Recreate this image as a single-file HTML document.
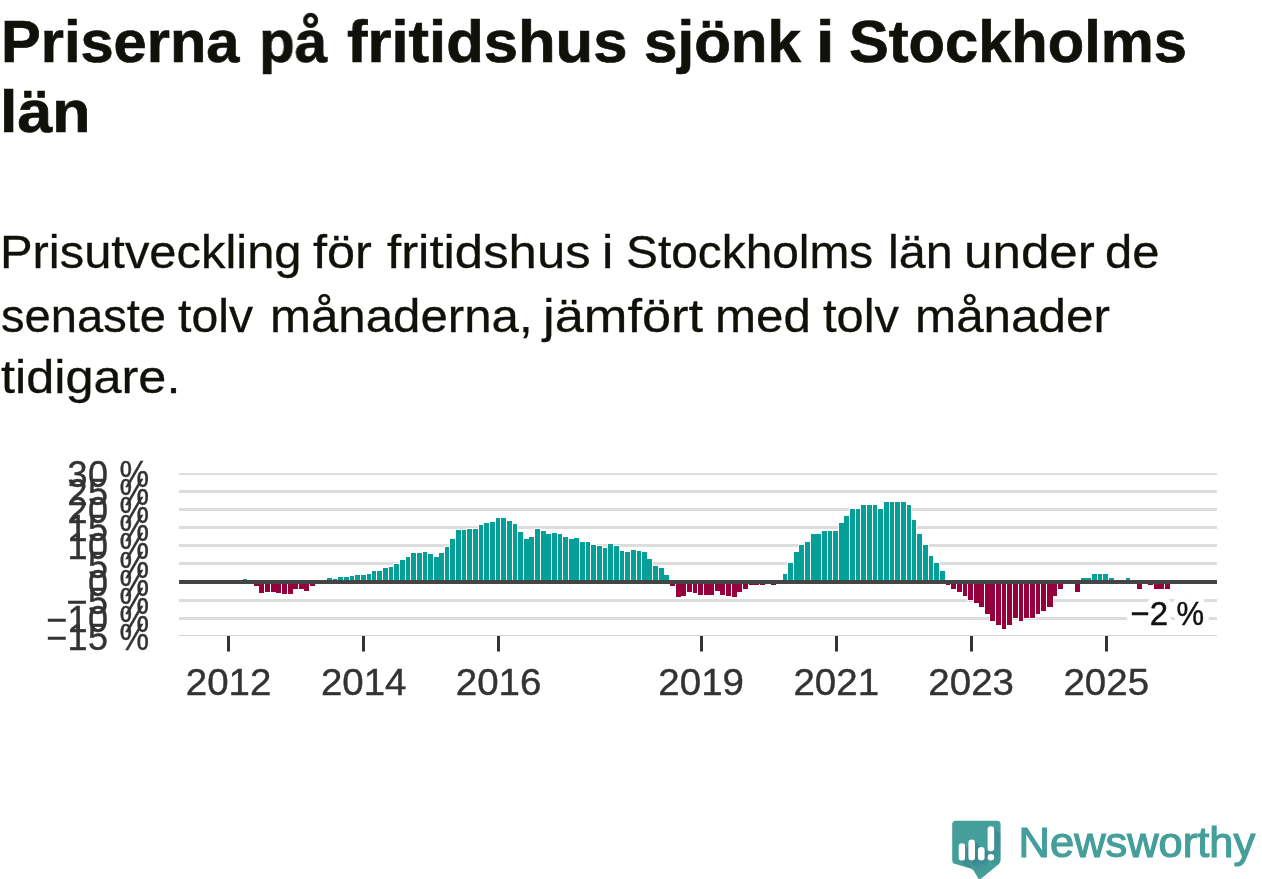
<!DOCTYPE html>
<html lang="sv"><head><meta charset="utf-8"><title>Priserna på fritidshus sjönk i Stockholms län</title>
<style>
html,body{margin:0;padding:0;background:#ffffff;}
body{width:1262px;height:879px;position:relative;overflow:hidden;font-family:"Liberation Sans", sans-serif;}
.w{position:absolute;white-space:nowrap;line-height:1;transform-origin:0 0;display:block;will-change:transform;}
.b{-webkit-text-stroke:0.7px #11110c;}
.r{-webkit-text-stroke:0.3px #11110c;}
svg{position:absolute;left:0;top:0;overflow:hidden;will-change:transform;}
</style></head><body>
<div class="head">
<span class="w b" style="left:0.99px;top:12.03px;font-size:59.5px;font-weight:700;color:#11110c;transform:scaleX(1.0013)">Priserna</span>
<span class="w b" style="left:258.97px;top:12.03px;font-size:59.5px;font-weight:700;color:#11110c;transform:scaleX(0.9833)">på</span>
<span class="w b" style="left:347.47px;top:12.03px;font-size:59.5px;font-weight:700;color:#11110c;transform:scaleX(1.0347)">fritidshus</span>
<span class="w b" style="left:643.58px;top:12.03px;font-size:59.5px;font-weight:700;color:#11110c;transform:scaleX(1.0105)">sjönk</span>
<span class="w b" style="left:815.69px;top:12.03px;font-size:59.5px;font-weight:700;color:#11110c;transform:scaleX(1.1200)">i</span>
<span class="w b" style="left:849.40px;top:12.03px;font-size:59.5px;font-weight:700;color:#11110c;transform:scaleX(1.0021)">Stockholms</span>
<span class="w b" style="left:-0.11px;top:81.63px;font-size:59.5px;font-weight:700;color:#11110c;transform:scaleX(1.0526)">län</span>
<span class="w r" style="left:-0.30px;top:230.28px;font-size:45.5px;font-weight:400;color:#11110c;transform:scaleX(1.0741)">Prisutveckling</span>
<span class="w r" style="left:313.19px;top:230.28px;font-size:45.5px;font-weight:400;color:#11110c;transform:scaleX(1.1096)">för</span>
<span class="w r" style="left:387.28px;top:230.28px;font-size:45.5px;font-weight:400;color:#11110c;transform:scaleX(1.1184)">fritidshus</span>
<span class="w r" style="left:602.40px;top:230.28px;font-size:45.5px;font-weight:400;color:#11110c;transform:scaleX(1.1200)">i</span>
<span class="w r" style="left:626.40px;top:230.28px;font-size:45.5px;font-weight:400;color:#11110c;transform:scaleX(1.0513)">Stockholms</span>
<span class="w r" style="left:887.70px;top:230.28px;font-size:45.5px;font-weight:400;color:#11110c;transform:scaleX(1.0673)">län</span>
<span class="w r" style="left:963.63px;top:230.28px;font-size:45.5px;font-weight:400;color:#11110c;transform:scaleX(1.1239)">under</span>
<span class="w r" style="left:1105.45px;top:230.28px;font-size:45.5px;font-weight:400;color:#11110c;transform:scaleX(1.0766)">de</span>
<span class="w r" style="left:1.36px;top:293.58px;font-size:45.5px;font-weight:400;color:#11110c;transform:scaleX(1.0359)">senaste</span>
<span class="w r" style="left:178.04px;top:293.58px;font-size:45.5px;font-weight:400;color:#11110c;transform:scaleX(1.0600)">tolv</span>
<span class="w r" style="left:269.66px;top:293.58px;font-size:45.5px;font-weight:400;color:#11110c;transform:scaleX(1.0814)">månaderna,</span>
<span class="w r" style="left:542.55px;top:293.58px;font-size:45.5px;font-weight:400;color:#11110c;transform:scaleX(1.1514)">jämfört</span>
<span class="w r" style="left:714.95px;top:293.58px;font-size:45.5px;font-weight:400;color:#11110c;transform:scaleX(1.0831)">med</span>
<span class="w r" style="left:823.13px;top:293.58px;font-size:45.5px;font-weight:400;color:#11110c;transform:scaleX(1.0729)">tolv</span>
<span class="w r" style="left:915.14px;top:293.58px;font-size:45.5px;font-weight:400;color:#11110c;transform:scaleX(1.0852)">månader</span>
<span class="w r" style="left:1.39px;top:355.28px;font-size:45.5px;font-weight:400;color:#11110c;transform:scaleX(1.1083)">tidigare.</span>
</div>
<svg class="chart" width="1262" height="879" viewBox="0 0 1262 879" font-family='"Liberation Sans", sans-serif'>
<g fill="#dddddd" shape-rendering="crispEdges">
<rect x="179" y="473" width="1038" height="2"/>
<rect x="179" y="490" width="1038" height="3"/>
<rect x="179" y="508" width="1038" height="3"/>
<rect x="179" y="526" width="1038" height="3"/>
<rect x="179" y="544" width="1038" height="3"/>
<rect x="179" y="562" width="1038" height="3"/>
<rect x="179" y="599" width="1038" height="3"/>
<rect x="179" y="617" width="1038" height="3"/>
<rect x="179" y="635" width="1038" height="1" fill="#d4d4d4"/>
</g>
<g shape-rendering="crispEdges">
<rect x="242" y="578" width="6" height="4" fill="#ffffff"/>
<rect x="253" y="582" width="7" height="5" fill="#ffffff"/>
<rect x="258" y="582" width="7" height="12" fill="#ffffff"/>
<rect x="264" y="582" width="7" height="11" fill="#ffffff"/>
<rect x="270" y="582" width="7" height="11" fill="#ffffff"/>
<rect x="275" y="582" width="7" height="12" fill="#ffffff"/>
<rect x="281" y="582" width="7" height="13" fill="#ffffff"/>
<rect x="287" y="582" width="7" height="13" fill="#ffffff"/>
<rect x="292" y="582" width="7" height="8" fill="#ffffff"/>
<rect x="298" y="582" width="7" height="8" fill="#ffffff"/>
<rect x="303" y="582" width="7" height="10" fill="#ffffff"/>
<rect x="309" y="582" width="7" height="5" fill="#ffffff"/>
<rect x="326" y="577" width="7" height="5" fill="#ffffff"/>
<rect x="332" y="578" width="6" height="4" fill="#ffffff"/>
<rect x="337" y="576" width="7" height="6" fill="#ffffff"/>
<rect x="343" y="576" width="7" height="6" fill="#ffffff"/>
<rect x="349" y="575" width="6" height="7" fill="#ffffff"/>
<rect x="354" y="574" width="7" height="8" fill="#ffffff"/>
<rect x="360" y="574" width="7" height="8" fill="#ffffff"/>
<rect x="366" y="573" width="6" height="9" fill="#ffffff"/>
<rect x="371" y="570" width="6" height="12" fill="#ffffff"/>
<rect x="376" y="570" width="7" height="12" fill="#ffffff"/>
<rect x="382" y="567" width="7" height="15" fill="#ffffff"/>
<rect x="388" y="566" width="6" height="16" fill="#ffffff"/>
<rect x="393" y="563" width="7" height="19" fill="#ffffff"/>
<rect x="399" y="559" width="7" height="23" fill="#ffffff"/>
<rect x="405" y="556" width="6" height="26" fill="#ffffff"/>
<rect x="410" y="552" width="7" height="30" fill="#ffffff"/>
<rect x="416" y="552" width="7" height="30" fill="#ffffff"/>
<rect x="422" y="551" width="6" height="31" fill="#ffffff"/>
<rect x="427" y="553" width="7" height="29" fill="#ffffff"/>
<rect x="433" y="556" width="7" height="26" fill="#ffffff"/>
<rect x="438" y="552" width="7" height="30" fill="#ffffff"/>
<rect x="444" y="546" width="6" height="36" fill="#ffffff"/>
<rect x="449" y="538" width="7" height="44" fill="#ffffff"/>
<rect x="455" y="529" width="7" height="53" fill="#ffffff"/>
<rect x="461" y="529" width="6" height="53" fill="#ffffff"/>
<rect x="466" y="528" width="7" height="54" fill="#ffffff"/>
<rect x="472" y="528" width="7" height="54" fill="#ffffff"/>
<rect x="478" y="524" width="6" height="58" fill="#ffffff"/>
<rect x="483" y="522" width="7" height="60" fill="#ffffff"/>
<rect x="489" y="521" width="7" height="61" fill="#ffffff"/>
<rect x="495" y="517" width="6" height="65" fill="#ffffff"/>
<rect x="500" y="517" width="7" height="65" fill="#ffffff"/>
<rect x="506" y="520" width="7" height="62" fill="#ffffff"/>
<rect x="512" y="523" width="6" height="59" fill="#ffffff"/>
<rect x="517" y="531" width="7" height="51" fill="#ffffff"/>
<rect x="523" y="538" width="7" height="44" fill="#ffffff"/>
<rect x="528" y="536" width="7" height="46" fill="#ffffff"/>
<rect x="534" y="528" width="7" height="54" fill="#ffffff"/>
<rect x="540" y="530" width="7" height="52" fill="#ffffff"/>
<rect x="545" y="533" width="7" height="49" fill="#ffffff"/>
<rect x="551" y="532" width="7" height="50" fill="#ffffff"/>
<rect x="557" y="533" width="6" height="49" fill="#ffffff"/>
<rect x="562" y="536" width="7" height="46" fill="#ffffff"/>
<rect x="568" y="538" width="7" height="44" fill="#ffffff"/>
<rect x="573" y="537" width="7" height="45" fill="#ffffff"/>
<rect x="579" y="541" width="7" height="41" fill="#ffffff"/>
<rect x="585" y="541" width="6" height="41" fill="#ffffff"/>
<rect x="590" y="544" width="7" height="38" fill="#ffffff"/>
<rect x="596" y="545" width="7" height="37" fill="#ffffff"/>
<rect x="602" y="547" width="6" height="35" fill="#ffffff"/>
<rect x="607" y="543" width="7" height="39" fill="#ffffff"/>
<rect x="613" y="545" width="7" height="37" fill="#ffffff"/>
<rect x="619" y="550" width="6" height="32" fill="#ffffff"/>
<rect x="624" y="551" width="7" height="31" fill="#ffffff"/>
<rect x="630" y="549" width="7" height="33" fill="#ffffff"/>
<rect x="636" y="550" width="6" height="32" fill="#ffffff"/>
<rect x="641" y="551" width="7" height="31" fill="#ffffff"/>
<rect x="646" y="558" width="7" height="24" fill="#ffffff"/>
<rect x="652" y="565" width="7" height="17" fill="#ffffff"/>
<rect x="658" y="567" width="7" height="15" fill="#ffffff"/>
<rect x="663" y="574" width="7" height="8" fill="#ffffff"/>
<rect x="669" y="582" width="7" height="5" fill="#ffffff"/>
<rect x="675" y="582" width="7" height="16" fill="#ffffff"/>
<rect x="680" y="582" width="7" height="15" fill="#ffffff"/>
<rect x="686" y="582" width="7" height="11" fill="#ffffff"/>
<rect x="692" y="582" width="6" height="12" fill="#ffffff"/>
<rect x="697" y="582" width="7" height="14" fill="#ffffff"/>
<rect x="703" y="582" width="7" height="14" fill="#ffffff"/>
<rect x="708" y="582" width="7" height="14" fill="#ffffff"/>
<rect x="714" y="582" width="7" height="10" fill="#ffffff"/>
<rect x="719" y="582" width="7" height="14" fill="#ffffff"/>
<rect x="725" y="582" width="7" height="15" fill="#ffffff"/>
<rect x="731" y="582" width="7" height="16" fill="#ffffff"/>
<rect x="736" y="582" width="7" height="11" fill="#ffffff"/>
<rect x="742" y="582" width="7" height="8" fill="#ffffff"/>
<rect x="748" y="582" width="7" height="4" fill="#ffffff"/>
<rect x="753" y="582" width="7" height="4" fill="#ffffff"/>
<rect x="759" y="582" width="7" height="4" fill="#ffffff"/>
<rect x="770" y="582" width="7" height="4" fill="#ffffff"/>
<rect x="782" y="573" width="6" height="9" fill="#ffffff"/>
<rect x="787" y="562" width="7" height="20" fill="#ffffff"/>
<rect x="793" y="551" width="7" height="31" fill="#ffffff"/>
<rect x="798" y="544" width="7" height="38" fill="#ffffff"/>
<rect x="804" y="541" width="7" height="41" fill="#ffffff"/>
<rect x="810" y="533" width="7" height="49" fill="#ffffff"/>
<rect x="815" y="533" width="7" height="49" fill="#ffffff"/>
<rect x="821" y="530" width="7" height="52" fill="#ffffff"/>
<rect x="827" y="530" width="6" height="52" fill="#ffffff"/>
<rect x="832" y="530" width="7" height="52" fill="#ffffff"/>
<rect x="838" y="522" width="7" height="60" fill="#ffffff"/>
<rect x="843" y="515" width="7" height="67" fill="#ffffff"/>
<rect x="849" y="508" width="7" height="74" fill="#ffffff"/>
<rect x="855" y="508" width="6" height="74" fill="#ffffff"/>
<rect x="860" y="504" width="7" height="78" fill="#ffffff"/>
<rect x="866" y="504" width="7" height="78" fill="#ffffff"/>
<rect x="872" y="504" width="6" height="78" fill="#ffffff"/>
<rect x="877" y="508" width="7" height="74" fill="#ffffff"/>
<rect x="883" y="501" width="7" height="81" fill="#ffffff"/>
<rect x="889" y="501" width="6" height="81" fill="#ffffff"/>
<rect x="894" y="501" width="7" height="81" fill="#ffffff"/>
<rect x="900" y="501" width="7" height="81" fill="#ffffff"/>
<rect x="906" y="504" width="6" height="78" fill="#ffffff"/>
<rect x="911" y="519" width="6" height="63" fill="#ffffff"/>
<rect x="916" y="533" width="7" height="49" fill="#ffffff"/>
<rect x="922" y="544" width="7" height="38" fill="#ffffff"/>
<rect x="928" y="555" width="6" height="27" fill="#ffffff"/>
<rect x="933" y="562" width="7" height="20" fill="#ffffff"/>
<rect x="939" y="570" width="7" height="12" fill="#ffffff"/>
<rect x="945" y="582" width="6" height="4" fill="#ffffff"/>
<rect x="950" y="582" width="7" height="8" fill="#ffffff"/>
<rect x="956" y="582" width="7" height="11" fill="#ffffff"/>
<rect x="962" y="582" width="6" height="15" fill="#ffffff"/>
<rect x="967" y="582" width="7" height="19" fill="#ffffff"/>
<rect x="973" y="582" width="7" height="22" fill="#ffffff"/>
<rect x="978" y="582" width="7" height="26" fill="#ffffff"/>
<rect x="984" y="582" width="7" height="33" fill="#ffffff"/>
<rect x="989" y="582" width="7" height="40" fill="#ffffff"/>
<rect x="995" y="582" width="7" height="44" fill="#ffffff"/>
<rect x="1001" y="582" width="6" height="48" fill="#ffffff"/>
<rect x="1006" y="582" width="7" height="44" fill="#ffffff"/>
<rect x="1012" y="582" width="7" height="37" fill="#ffffff"/>
<rect x="1018" y="582" width="6" height="40" fill="#ffffff"/>
<rect x="1023" y="582" width="7" height="37" fill="#ffffff"/>
<rect x="1029" y="582" width="7" height="37" fill="#ffffff"/>
<rect x="1035" y="582" width="6" height="33" fill="#ffffff"/>
<rect x="1040" y="582" width="7" height="30" fill="#ffffff"/>
<rect x="1046" y="582" width="8" height="26" fill="#ffffff"/>
<rect x="1052" y="582" width="6" height="15" fill="#ffffff"/>
<rect x="1057" y="582" width="7" height="8" fill="#ffffff"/>
<rect x="1074" y="582" width="7" height="11" fill="#ffffff"/>
<rect x="1080" y="577" width="7" height="5" fill="#ffffff"/>
<rect x="1085" y="577" width="7" height="5" fill="#ffffff"/>
<rect x="1091" y="573" width="7" height="9" fill="#ffffff"/>
<rect x="1097" y="573" width="6" height="9" fill="#ffffff"/>
<rect x="1102" y="573" width="7" height="9" fill="#ffffff"/>
<rect x="1108" y="577" width="7" height="5" fill="#ffffff"/>
<rect x="1125" y="577" width="6" height="5" fill="#ffffff"/>
<rect x="1136" y="582" width="7" height="8" fill="#ffffff"/>
<rect x="1147" y="582" width="7" height="4" fill="#ffffff"/>
<rect x="1153" y="582" width="8" height="8" fill="#ffffff"/>
<rect x="1159" y="582" width="6" height="8" fill="#ffffff"/>
<rect x="1164" y="582" width="7" height="8" fill="#ffffff"/>
<rect x="243" y="579" width="4" height="3" fill="#04a097"/>
<rect x="254" y="582" width="5" height="4" fill="#96003c"/>
<rect x="259" y="582" width="5" height="11" fill="#96003c"/>
<rect x="265" y="582" width="5" height="10" fill="#96003c"/>
<rect x="271" y="582" width="5" height="10" fill="#96003c"/>
<rect x="276" y="582" width="5" height="11" fill="#96003c"/>
<rect x="282" y="582" width="5" height="12" fill="#96003c"/>
<rect x="288" y="582" width="5" height="12" fill="#96003c"/>
<rect x="293" y="582" width="5" height="7" fill="#96003c"/>
<rect x="299" y="582" width="5" height="7" fill="#96003c"/>
<rect x="304" y="582" width="5" height="9" fill="#96003c"/>
<rect x="310" y="582" width="5" height="4" fill="#96003c"/>
<rect x="327" y="578" width="5" height="4" fill="#04a097"/>
<rect x="333" y="579" width="4" height="3" fill="#04a097"/>
<rect x="338" y="577" width="5" height="5" fill="#04a097"/>
<rect x="344" y="577" width="5" height="5" fill="#04a097"/>
<rect x="350" y="576" width="4" height="6" fill="#04a097"/>
<rect x="355" y="575" width="5" height="7" fill="#04a097"/>
<rect x="361" y="575" width="5" height="7" fill="#04a097"/>
<rect x="367" y="574" width="4" height="8" fill="#04a097"/>
<rect x="372" y="571" width="4" height="11" fill="#04a097"/>
<rect x="377" y="571" width="5" height="11" fill="#04a097"/>
<rect x="383" y="568" width="5" height="14" fill="#04a097"/>
<rect x="389" y="567" width="4" height="15" fill="#04a097"/>
<rect x="394" y="564" width="5" height="18" fill="#04a097"/>
<rect x="400" y="560" width="5" height="22" fill="#04a097"/>
<rect x="406" y="557" width="4" height="25" fill="#04a097"/>
<rect x="411" y="553" width="5" height="29" fill="#04a097"/>
<rect x="417" y="553" width="5" height="29" fill="#04a097"/>
<rect x="423" y="552" width="4" height="30" fill="#04a097"/>
<rect x="428" y="554" width="5" height="28" fill="#04a097"/>
<rect x="434" y="557" width="5" height="25" fill="#04a097"/>
<rect x="439" y="553" width="5" height="29" fill="#04a097"/>
<rect x="445" y="547" width="4" height="35" fill="#04a097"/>
<rect x="450" y="539" width="5" height="43" fill="#04a097"/>
<rect x="456" y="530" width="5" height="52" fill="#04a097"/>
<rect x="462" y="530" width="4" height="52" fill="#04a097"/>
<rect x="467" y="529" width="5" height="53" fill="#04a097"/>
<rect x="473" y="529" width="5" height="53" fill="#04a097"/>
<rect x="479" y="525" width="4" height="57" fill="#04a097"/>
<rect x="484" y="523" width="5" height="59" fill="#04a097"/>
<rect x="490" y="522" width="5" height="60" fill="#04a097"/>
<rect x="496" y="518" width="4" height="64" fill="#04a097"/>
<rect x="501" y="518" width="5" height="64" fill="#04a097"/>
<rect x="507" y="521" width="5" height="61" fill="#04a097"/>
<rect x="513" y="524" width="4" height="58" fill="#04a097"/>
<rect x="518" y="532" width="5" height="50" fill="#04a097"/>
<rect x="524" y="539" width="5" height="43" fill="#04a097"/>
<rect x="529" y="537" width="5" height="45" fill="#04a097"/>
<rect x="535" y="529" width="5" height="53" fill="#04a097"/>
<rect x="541" y="531" width="5" height="51" fill="#04a097"/>
<rect x="546" y="534" width="5" height="48" fill="#04a097"/>
<rect x="552" y="533" width="5" height="49" fill="#04a097"/>
<rect x="558" y="534" width="4" height="48" fill="#04a097"/>
<rect x="563" y="537" width="5" height="45" fill="#04a097"/>
<rect x="569" y="539" width="5" height="43" fill="#04a097"/>
<rect x="574" y="538" width="5" height="44" fill="#04a097"/>
<rect x="580" y="542" width="5" height="40" fill="#04a097"/>
<rect x="586" y="542" width="4" height="40" fill="#04a097"/>
<rect x="591" y="545" width="5" height="37" fill="#04a097"/>
<rect x="597" y="546" width="5" height="36" fill="#04a097"/>
<rect x="603" y="548" width="4" height="34" fill="#04a097"/>
<rect x="608" y="544" width="5" height="38" fill="#04a097"/>
<rect x="614" y="546" width="5" height="36" fill="#04a097"/>
<rect x="620" y="551" width="4" height="31" fill="#04a097"/>
<rect x="625" y="552" width="5" height="30" fill="#04a097"/>
<rect x="631" y="550" width="5" height="32" fill="#04a097"/>
<rect x="637" y="551" width="4" height="31" fill="#04a097"/>
<rect x="642" y="552" width="5" height="30" fill="#04a097"/>
<rect x="647" y="559" width="5" height="23" fill="#04a097"/>
<rect x="653" y="566" width="5" height="16" fill="#04a097"/>
<rect x="659" y="568" width="5" height="14" fill="#04a097"/>
<rect x="664" y="575" width="5" height="7" fill="#04a097"/>
<rect x="670" y="582" width="5" height="4" fill="#96003c"/>
<rect x="676" y="582" width="5" height="15" fill="#96003c"/>
<rect x="681" y="582" width="5" height="14" fill="#96003c"/>
<rect x="687" y="582" width="5" height="10" fill="#96003c"/>
<rect x="693" y="582" width="4" height="11" fill="#96003c"/>
<rect x="698" y="582" width="5" height="13" fill="#96003c"/>
<rect x="704" y="582" width="5" height="13" fill="#96003c"/>
<rect x="709" y="582" width="5" height="13" fill="#96003c"/>
<rect x="715" y="582" width="5" height="9" fill="#96003c"/>
<rect x="720" y="582" width="5" height="13" fill="#96003c"/>
<rect x="726" y="582" width="5" height="14" fill="#96003c"/>
<rect x="732" y="582" width="5" height="15" fill="#96003c"/>
<rect x="737" y="582" width="5" height="10" fill="#96003c"/>
<rect x="743" y="582" width="5" height="7" fill="#96003c"/>
<rect x="749" y="582" width="5" height="3" fill="#96003c"/>
<rect x="754" y="582" width="5" height="3" fill="#96003c"/>
<rect x="760" y="582" width="5" height="3" fill="#96003c"/>
<rect x="771" y="582" width="5" height="3" fill="#96003c"/>
<rect x="783" y="574" width="4" height="8" fill="#04a097"/>
<rect x="788" y="563" width="5" height="19" fill="#04a097"/>
<rect x="794" y="552" width="5" height="30" fill="#04a097"/>
<rect x="799" y="545" width="5" height="37" fill="#04a097"/>
<rect x="805" y="542" width="5" height="40" fill="#04a097"/>
<rect x="811" y="534" width="5" height="48" fill="#04a097"/>
<rect x="816" y="534" width="5" height="48" fill="#04a097"/>
<rect x="822" y="531" width="5" height="51" fill="#04a097"/>
<rect x="828" y="531" width="4" height="51" fill="#04a097"/>
<rect x="833" y="531" width="5" height="51" fill="#04a097"/>
<rect x="839" y="523" width="5" height="59" fill="#04a097"/>
<rect x="844" y="516" width="5" height="66" fill="#04a097"/>
<rect x="850" y="509" width="5" height="73" fill="#04a097"/>
<rect x="856" y="509" width="4" height="73" fill="#04a097"/>
<rect x="861" y="505" width="5" height="77" fill="#04a097"/>
<rect x="867" y="505" width="5" height="77" fill="#04a097"/>
<rect x="873" y="505" width="4" height="77" fill="#04a097"/>
<rect x="878" y="509" width="5" height="73" fill="#04a097"/>
<rect x="884" y="502" width="5" height="80" fill="#04a097"/>
<rect x="890" y="502" width="4" height="80" fill="#04a097"/>
<rect x="895" y="502" width="5" height="80" fill="#04a097"/>
<rect x="901" y="502" width="5" height="80" fill="#04a097"/>
<rect x="907" y="505" width="4" height="77" fill="#04a097"/>
<rect x="912" y="520" width="4" height="62" fill="#04a097"/>
<rect x="917" y="534" width="5" height="48" fill="#04a097"/>
<rect x="923" y="545" width="5" height="37" fill="#04a097"/>
<rect x="929" y="556" width="4" height="26" fill="#04a097"/>
<rect x="934" y="563" width="5" height="19" fill="#04a097"/>
<rect x="940" y="571" width="5" height="11" fill="#04a097"/>
<rect x="946" y="582" width="4" height="3" fill="#96003c"/>
<rect x="951" y="582" width="5" height="7" fill="#96003c"/>
<rect x="957" y="582" width="5" height="10" fill="#96003c"/>
<rect x="963" y="582" width="4" height="14" fill="#96003c"/>
<rect x="968" y="582" width="5" height="18" fill="#96003c"/>
<rect x="974" y="582" width="5" height="21" fill="#96003c"/>
<rect x="979" y="582" width="5" height="25" fill="#96003c"/>
<rect x="985" y="582" width="5" height="32" fill="#96003c"/>
<rect x="990" y="582" width="5" height="39" fill="#96003c"/>
<rect x="996" y="582" width="5" height="43" fill="#96003c"/>
<rect x="1002" y="582" width="4" height="47" fill="#96003c"/>
<rect x="1007" y="582" width="5" height="43" fill="#96003c"/>
<rect x="1013" y="582" width="5" height="36" fill="#96003c"/>
<rect x="1019" y="582" width="4" height="39" fill="#96003c"/>
<rect x="1024" y="582" width="5" height="36" fill="#96003c"/>
<rect x="1030" y="582" width="5" height="36" fill="#96003c"/>
<rect x="1036" y="582" width="4" height="32" fill="#96003c"/>
<rect x="1041" y="582" width="5" height="29" fill="#96003c"/>
<rect x="1047" y="582" width="6" height="25" fill="#96003c"/>
<rect x="1053" y="582" width="4" height="14" fill="#96003c"/>
<rect x="1058" y="582" width="5" height="7" fill="#96003c"/>
<rect x="1075" y="582" width="5" height="10" fill="#96003c"/>
<rect x="1081" y="578" width="5" height="4" fill="#04a097"/>
<rect x="1086" y="578" width="5" height="4" fill="#04a097"/>
<rect x="1092" y="574" width="5" height="8" fill="#04a097"/>
<rect x="1098" y="574" width="4" height="8" fill="#04a097"/>
<rect x="1103" y="574" width="5" height="8" fill="#04a097"/>
<rect x="1109" y="578" width="5" height="4" fill="#04a097"/>
<rect x="1126" y="578" width="4" height="4" fill="#04a097"/>
<rect x="1137" y="582" width="5" height="7" fill="#96003c"/>
<rect x="1148" y="582" width="5" height="3" fill="#96003c"/>
<rect x="1154" y="582" width="6" height="7" fill="#96003c"/>
<rect x="1160" y="582" width="4" height="7" fill="#96003c"/>
<rect x="1165" y="582" width="5" height="7" fill="#96003c"/>
</g>
<rect x="179" y="580" width="1038" height="4" fill="#444444" shape-rendering="crispEdges"/>
<rect x="227" y="636" width="3" height="15.5" fill="#333333"/>
<text x="228.62" y="695" font-size="36" text-anchor="middle" fill="#333333" stroke="#333333" stroke-width="0.4" textLength="85.6" lengthAdjust="spacingAndGlyphs">2012</text>
<rect x="362" y="636" width="3" height="15.5" fill="#333333"/>
<text x="363.71" y="695" font-size="36" text-anchor="middle" fill="#333333" stroke="#333333" stroke-width="0.4" textLength="85.6" lengthAdjust="spacingAndGlyphs">2014</text>
<rect x="497" y="636" width="3" height="15.5" fill="#333333"/>
<text x="498.61" y="695" font-size="36" text-anchor="middle" fill="#333333" stroke="#333333" stroke-width="0.4" textLength="85.6" lengthAdjust="spacingAndGlyphs">2016</text>
<rect x="700" y="636" width="3" height="15.5" fill="#333333"/>
<text x="701.15" y="695" font-size="36" text-anchor="middle" fill="#333333" stroke="#333333" stroke-width="0.4" textLength="85.6" lengthAdjust="spacingAndGlyphs">2019</text>
<rect x="835" y="636" width="3" height="15.5" fill="#333333"/>
<text x="836.24" y="695" font-size="36" text-anchor="middle" fill="#333333" stroke="#333333" stroke-width="0.4" textLength="85.6" lengthAdjust="spacingAndGlyphs">2021</text>
<rect x="970" y="636" width="3" height="15.5" fill="#333333"/>
<text x="971.15" y="695" font-size="36" text-anchor="middle" fill="#333333" stroke="#333333" stroke-width="0.4" textLength="85.6" lengthAdjust="spacingAndGlyphs">2023</text>
<rect x="1105" y="636" width="3" height="15.5" fill="#333333"/>
<text x="1106.24" y="695" font-size="36" text-anchor="middle" fill="#333333" stroke="#333333" stroke-width="0.4" textLength="85.6" lengthAdjust="spacingAndGlyphs">2025</text>
<text x="108.3" y="487.00" font-size="36" text-anchor="end" fill="#333333" stroke="#333333" stroke-width="0.4" letter-spacing="0.35">30</text>
<text x="119.6" y="487.00" font-size="36" fill="#333333" stroke="#333333" stroke-width="0.4" textLength="29.6" lengthAdjust="spacingAndGlyphs">%</text>
<text x="108.3" y="505.10" font-size="36" text-anchor="end" fill="#333333" stroke="#333333" stroke-width="0.4" letter-spacing="0.35">25</text>
<text x="119.6" y="505.10" font-size="36" fill="#333333" stroke="#333333" stroke-width="0.4" textLength="29.6" lengthAdjust="spacingAndGlyphs">%</text>
<text x="108.3" y="523.20" font-size="36" text-anchor="end" fill="#333333" stroke="#333333" stroke-width="0.4" letter-spacing="0.35">20</text>
<text x="119.6" y="523.20" font-size="36" fill="#333333" stroke="#333333" stroke-width="0.4" textLength="29.6" lengthAdjust="spacingAndGlyphs">%</text>
<text x="108.3" y="541.30" font-size="36" text-anchor="end" fill="#333333" stroke="#333333" stroke-width="0.4" letter-spacing="0.35">15</text>
<text x="119.6" y="541.30" font-size="36" fill="#333333" stroke="#333333" stroke-width="0.4" textLength="29.6" lengthAdjust="spacingAndGlyphs">%</text>
<text x="108.3" y="559.40" font-size="36" text-anchor="end" fill="#333333" stroke="#333333" stroke-width="0.4" letter-spacing="0.35">10</text>
<text x="119.6" y="559.40" font-size="36" fill="#333333" stroke="#333333" stroke-width="0.4" textLength="29.6" lengthAdjust="spacingAndGlyphs">%</text>
<text x="108.3" y="577.50" font-size="36" text-anchor="end" fill="#333333" stroke="#333333" stroke-width="0.4" letter-spacing="0.35">5</text>
<text x="119.6" y="577.50" font-size="36" fill="#333333" stroke="#333333" stroke-width="0.4" textLength="29.6" lengthAdjust="spacingAndGlyphs">%</text>
<text x="108.3" y="595.60" font-size="36" text-anchor="end" fill="#333333" stroke="#333333" stroke-width="0.4" letter-spacing="0.35">0</text>
<text x="119.6" y="595.60" font-size="36" fill="#333333" stroke="#333333" stroke-width="0.4" textLength="29.6" lengthAdjust="spacingAndGlyphs">%</text>
<text x="108.3" y="613.70" font-size="36" text-anchor="end" fill="#333333" stroke="#333333" stroke-width="0.4" letter-spacing="0.35">−5</text>
<text x="119.6" y="613.70" font-size="36" fill="#333333" stroke="#333333" stroke-width="0.4" textLength="29.6" lengthAdjust="spacingAndGlyphs">%</text>
<text x="108.3" y="631.80" font-size="36" text-anchor="end" fill="#333333" stroke="#333333" stroke-width="0.4" letter-spacing="0.35">−10</text>
<text x="119.6" y="631.80" font-size="36" fill="#333333" stroke="#333333" stroke-width="0.4" textLength="29.6" lengthAdjust="spacingAndGlyphs">%</text>
<text x="108.3" y="649.90" font-size="36" text-anchor="end" fill="#333333" stroke="#333333" stroke-width="0.4" letter-spacing="0.35">−15</text>
<text x="119.6" y="649.90" font-size="36" fill="#333333" stroke="#333333" stroke-width="0.4" textLength="29.6" lengthAdjust="spacingAndGlyphs">%</text>
<text x="1130.6" y="625.2" font-size="34" textLength="37.5" lengthAdjust="spacingAndGlyphs" stroke="#ffffff" stroke-width="12.5" stroke-linejoin="round" fill="#ffffff">−2</text>
<text x="1176.4" y="625.2" font-size="34" textLength="27.6" lengthAdjust="spacingAndGlyphs" stroke="#ffffff" stroke-width="12.5" stroke-linejoin="round" fill="#ffffff">%</text>
<text x="1130.6" y="625.2" font-size="34" textLength="37.5" lengthAdjust="spacingAndGlyphs" fill="#111111" stroke="#111111" stroke-width="0.45">−2</text>
<text x="1176.4" y="625.2" font-size="34" textLength="27.6" lengthAdjust="spacingAndGlyphs" fill="#111111" stroke="#111111" stroke-width="0.45">%</text>
</svg>
<svg class="logo" width="1262" height="879" viewBox="0 0 1262 879" font-family='"Liberation Sans", sans-serif'>
<defs>
<clipPath id="lb"><path d="M955.9 820.7 H996.9 Q1000.6 820.7 1000.6 824.4 V860.3 Q1000.6 862.6 998.9 864 L979.2 880.2 L975 872.8 Q974 870 971.5 868.7 L954.5 863.7 Q952.2 863 952.2 860.5 V824.4 Q952.2 820.7 955.9 820.7 Z"/></clipPath>
<linearGradient id="sh" x1="0" y1="0" x2="1" y2="1"><stop offset="0.1" stop-color="#2f6585" stop-opacity="0.5"/><stop offset="0.85" stop-color="#2f6585" stop-opacity="0"/></linearGradient>
</defs>
<path d="M955.9 820.7 H996.9 Q1000.6 820.7 1000.6 824.4 V860.3 Q1000.6 862.6 998.9 864 L979.2 880.2 L975 872.8 Q974 870 971.5 868.7 L954.5 863.7 Q952.2 863 952.2 860.5 V824.4 Q952.2 820.7 955.9 820.7 Z" fill="#449f9a"/>
<g clip-path="url(#lb)" fill="url(#sh)">
<path d="M965.1 845.2 L982.1 862.2 L976.6 877.0 L959.6 860.0 Z"/>
<path d="M975.0 841.5 L990.0 856.5 L984.2 875.0 L969.2 860.0 Z"/>
<path d="M984.6 849.0 L992.6 857.0 L986.8 868.0 L978.8 860.0 Z"/>
<path d="M994.2 828.3 L1005.2 839.3 L999.4 869.0 L988.4 858.0 Z"/>
</g>
<g fill="#ffffff">
<rect x="958.7" y="843.2" width="6.4" height="17.4" rx="3.2"/>
<rect x="968.4" y="839.5" width="6.6" height="21.1" rx="3.3"/>
<rect x="978.0" y="846.9" width="6.6" height="13.7" rx="3.3"/>
<rect x="987.6" y="826.2" width="6.6" height="25.2" rx="3.3"/>
<rect x="987.6" y="853.9" width="6.6" height="6.7" rx="3.3"/>
</g>
<text x="1018.6" y="857.3" font-size="42" fill="#449f9a" stroke="#449f9a" stroke-width="1.15" textLength="236.6" lengthAdjust="spacingAndGlyphs">Newsworthy</text>
</svg>
</body></html>
